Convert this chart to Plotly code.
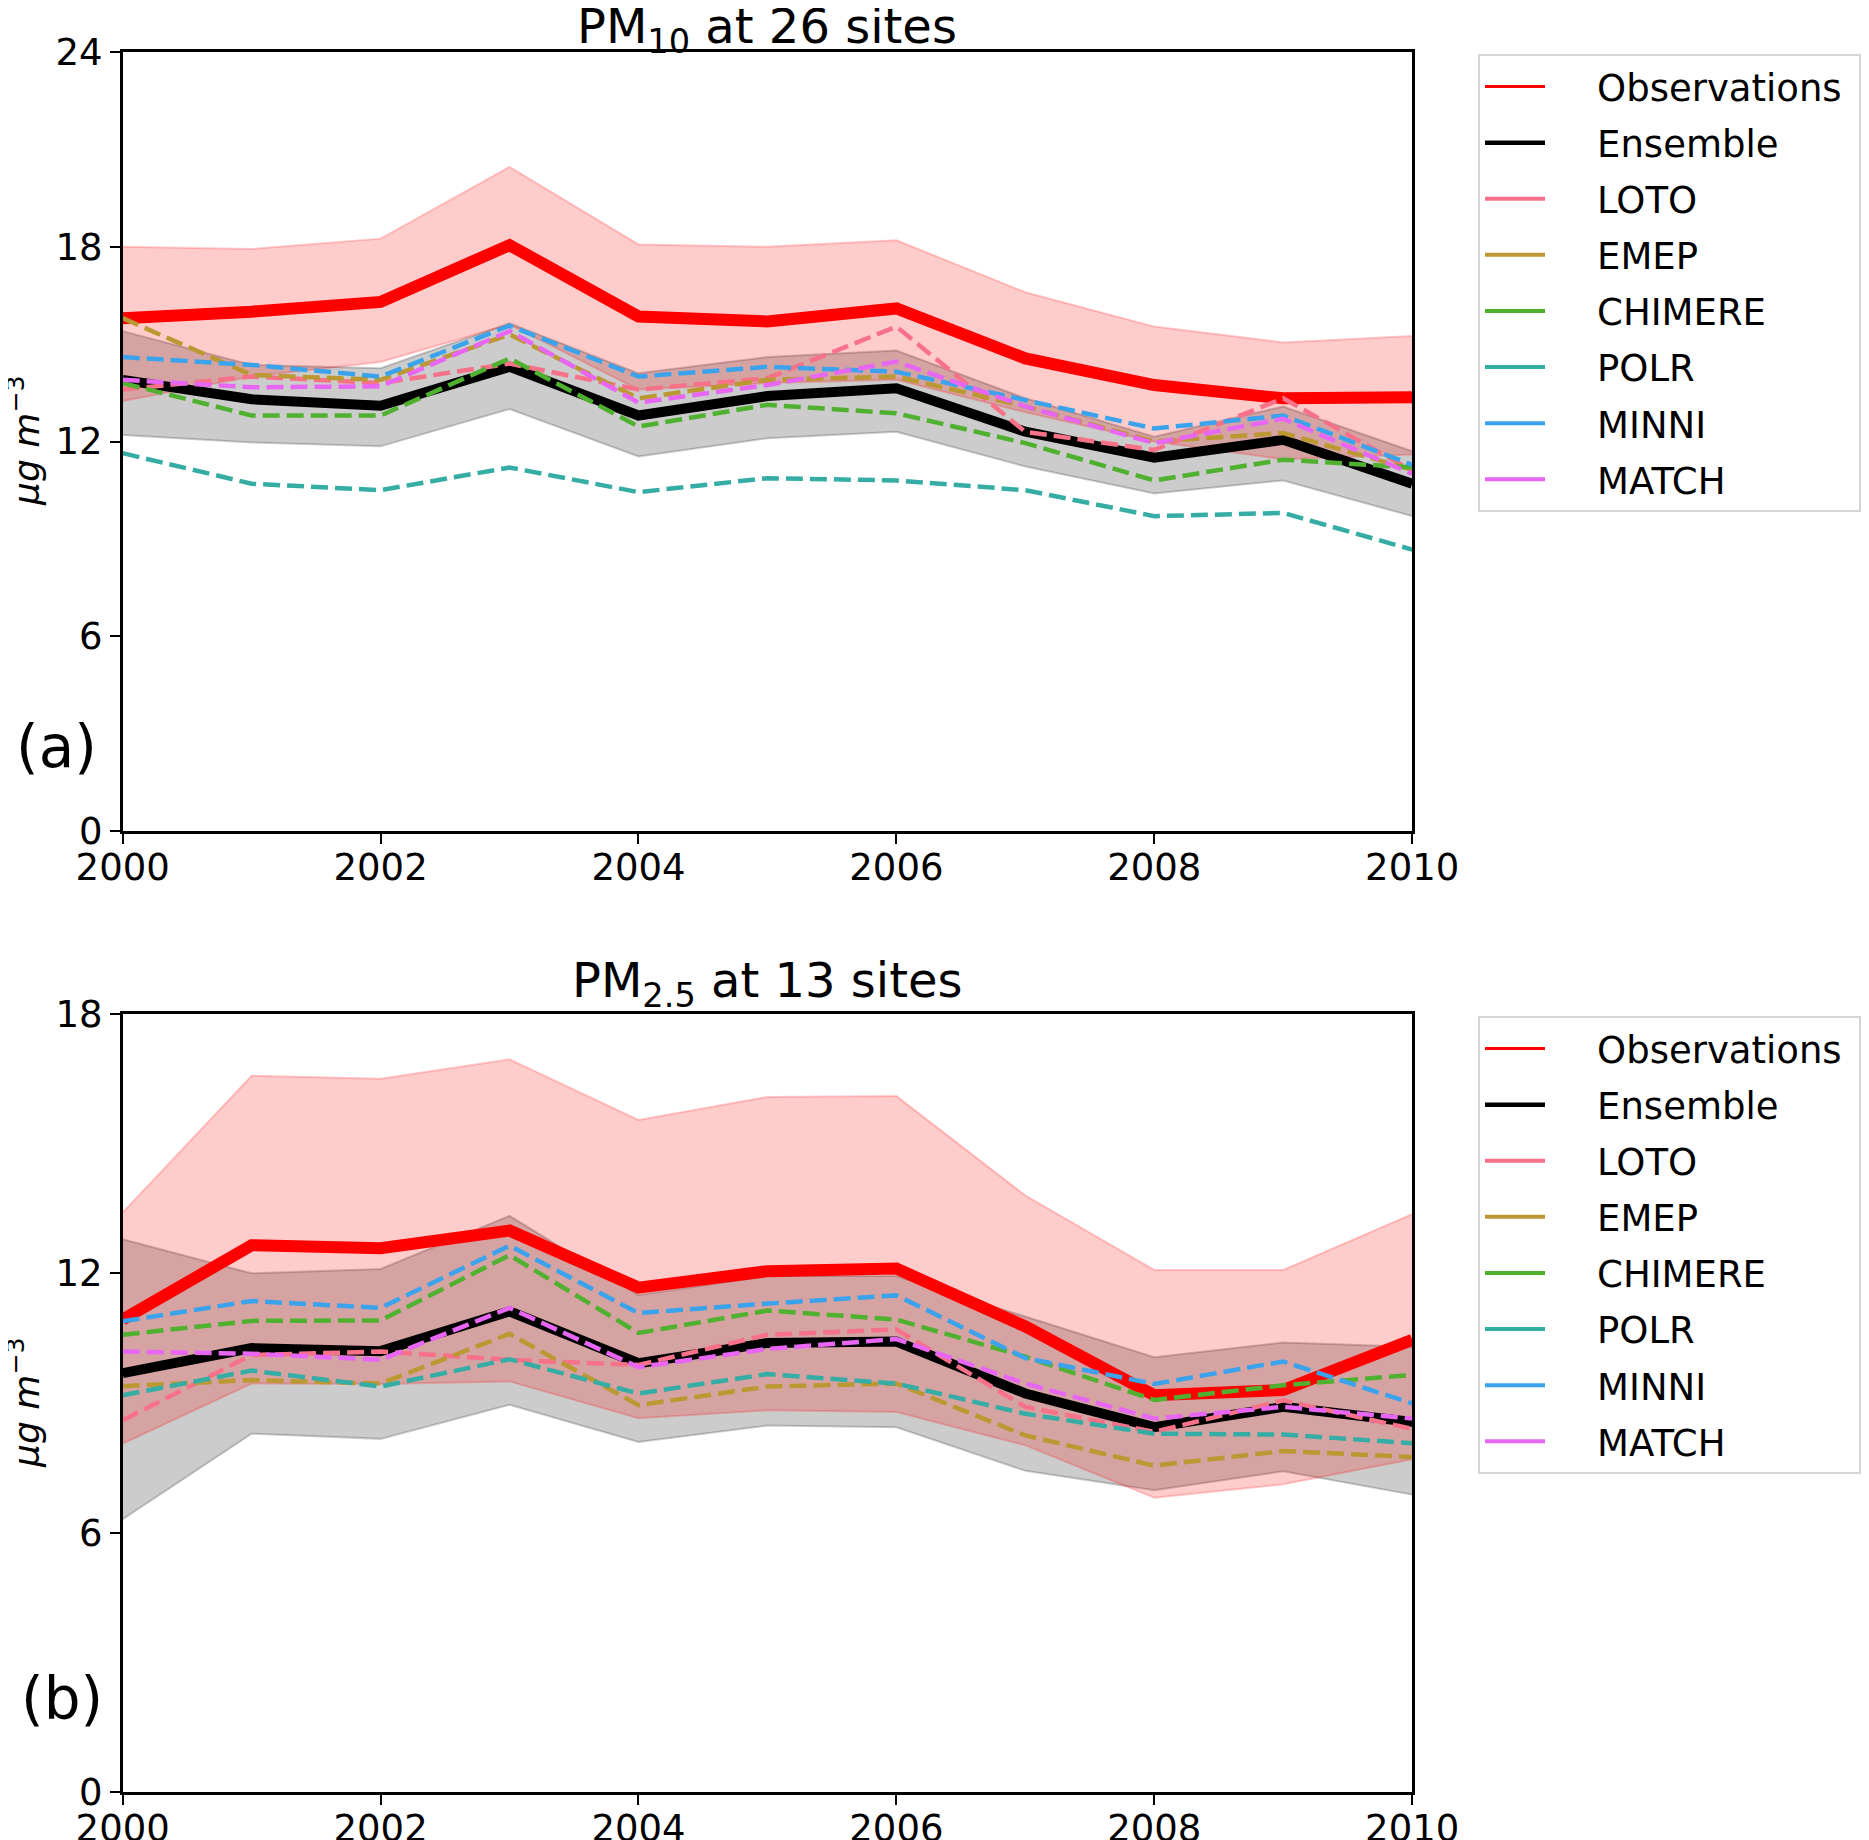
import plotly.graph_objects as go

years = list(range(2000, 2011))

# PM10 (panel a)
pm10_obs = [15.8, 16.0, 16.3, 18.05, 15.85, 15.7, 16.1, 14.56, 13.74, 13.33, 13.36]
pm10_obs_hi = [18.0, 17.93, 18.25, 20.46, 18.07, 18.0, 18.2, 16.6, 15.54, 15.05, 15.25]
pm10_obs_lo = [13.25, 14.0, 14.45, 15.6, 13.6, 13.8, 13.9, 12.9, 12.0, 11.45, 11.6]
pm10_ens = [13.9, 13.3, 13.1, 14.3, 12.8, 13.4, 13.64, 12.3, 11.5, 12.05, 10.7]
pm10_ens_hi = [15.4, 14.36, 14.26, 15.64, 14.1, 14.6, 14.8, 13.33, 12.15, 13.08, 11.7]
pm10_ens_lo = [12.2, 11.97, 11.85, 13.0, 11.54, 12.1, 12.3, 11.23, 10.4, 10.8, 9.7]
pm10_loto = [13.6, 14.0, 13.8, 14.4, 13.6, 13.95, 15.54, 12.3, 11.74, 13.33, 11.1]
pm10_emep = [15.8, 14.05, 13.9, 15.3, 13.33, 13.9, 14.0, 13.08, 12.0, 12.26, 11.13]
pm10_chimere = [13.8, 12.8, 12.8, 14.56, 12.46, 13.13, 12.87, 11.95, 10.8, 11.44, 11.2]
pm10_polr = [11.64, 10.7, 10.5, 11.2, 10.44, 10.87, 10.8, 10.5, 9.7, 9.8, 8.67]
pm10_minni = [14.6, 14.36, 14.0, 15.57, 14.0, 14.3, 14.15, 13.28, 12.4, 12.8, 11.28]
pm10_match = [13.9, 13.67, 13.7, 15.4, 13.2, 13.74, 14.46, 13.08, 11.95, 12.7, 11.0]

# PM2.5 (panel b)
pm25_obs = [10.93, 12.65, 12.58, 12.99, 11.67, 12.05, 12.11, 10.77, 9.18, 9.3, 10.46]
pm25_obs_hi = [13.41, 16.57, 16.5, 16.95, 15.55, 16.08, 16.1, 13.8, 12.08, 12.08, 13.37]
pm25_obs_lo = [8.06, 9.45, 9.44, 9.5, 8.65, 8.83, 8.79, 8.02, 6.81, 7.12, 7.7]
pm25_ens = [9.69, 10.27, 10.2, 11.12, 9.92, 10.39, 10.42, 9.22, 8.44, 8.91, 8.56]
pm25_ens_hi = [12.79, 12.0, 12.1, 13.33, 11.5, 11.94, 11.94, 11.0, 10.06, 10.4, 10.3]
pm25_ens_lo = [6.31, 8.29, 8.17, 8.96, 8.1, 8.48, 8.44, 7.43, 6.98, 7.42, 6.88]
pm25_loto = [8.6, 10.11, 10.19, 10.0, 9.88, 10.58, 10.7, 8.91, 8.33, 9.06, 8.4]
pm25_emep = [9.39, 9.53, 9.45, 10.6, 8.95, 9.38, 9.45, 8.25, 7.55, 7.89, 7.75]
pm25_chimere = [10.58, 10.9, 10.91, 12.42, 10.62, 11.14, 10.93, 10.07, 9.07, 9.41, 9.65]
pm25_polr = [9.18, 9.75, 9.38, 10.01, 9.22, 9.67, 9.45, 8.75, 8.29, 8.27, 8.07]
pm25_minni = [10.89, 11.36, 11.2, 12.64, 11.08, 11.3, 11.49, 10.04, 9.44, 9.96, 8.99]
pm25_match = [10.19, 10.14, 10.0, 11.2, 9.83, 10.25, 10.48, 9.45, 8.64, 8.91, 8.64]

model_names = ["LOTO", "EMEP", "CHIMERE", "POLR", "MINNI", "MATCH"]
model_colors = ["#f77189", "#bb9832", "#50b131", "#36ada4", "#3ba3ec", "#e866f4"]

# the page body adds an 8px margin, so the figure starts at (8, 8) in the window
PAD = 8
W, H = 1869 - 2 * PAD, 1840 - PAD
FONT = "DejaVu Sans"


def px(x):
    return (x - PAD) / W


def py(y):
    return 1 - (y - PAD) / H


panels = [
    dict(xa="x", ya="y", legend="legend", ymax=24, ticks=[0, 6, 12, 18, 24],
         obs=pm10_obs, obs_lo=pm10_obs_lo, obs_hi=pm10_obs_hi,
         ens=pm10_ens, ens_lo=pm10_ens_lo, ens_hi=pm10_ens_hi,
         models=[pm10_loto, pm10_emep, pm10_chimere, pm10_polr, pm10_minni, pm10_match]),
    dict(xa="x2", ya="y2", legend="legend2", ymax=18, ticks=[0, 6, 12, 18],
         obs=pm25_obs, obs_lo=pm25_obs_lo, obs_hi=pm25_obs_hi,
         ens=pm25_ens, ens_lo=pm25_ens_lo, ens_hi=pm25_ens_hi,
         models=[pm25_loto, pm25_emep, pm25_chimere, pm25_polr, pm25_minni, pm25_match]),
]

fig = go.Figure()

for k, p in enumerate(panels):
    ax = dict(xaxis=p["xa"], yaxis=p["ya"], showlegend=False, hoverinfo="skip")
    # ensemble spread
    fig.add_trace(go.Scatter(x=years, y=p["ens_lo"], mode="lines",
                             line=dict(color="rgba(0,0,0,0.2)", width=2), **ax))
    fig.add_trace(go.Scatter(x=years, y=p["ens_hi"], mode="lines", fill="tonexty",
                             fillcolor="rgba(0,0,0,0.2)",
                             line=dict(color="rgba(0,0,0,0.2)", width=2), **ax))
    # observation spread
    fig.add_trace(go.Scatter(x=years, y=p["obs_lo"], mode="lines",
                             line=dict(color="rgba(255,0,0,0.2)", width=2), **ax))
    fig.add_trace(go.Scatter(x=years, y=p["obs_hi"], mode="lines", fill="tonexty",
                             fillcolor="rgba(255,0,0,0.2)",
                             line=dict(color="rgba(255,0,0,0.2)", width=2), **ax))
    fig.add_trace(go.Scatter(x=years, y=p["obs"], mode="lines",
                             line=dict(color="red", width=12), **ax))
    fig.add_trace(go.Scatter(x=years, y=p["ens"], mode="lines",
                             line=dict(color="black", width=10), **ax))
    for vals, col in zip(p["models"], model_colors):
        fig.add_trace(go.Scatter(x=years, y=vals, mode="lines",
                                 line=dict(color=col, width=4.5, dash="17px,7px"), **ax))

    # legend entries (solid lines as in the original)
    entries = [("Observations", "red", 3), ("Ensemble", "black", 4.5)]
    entries += [(n, c, 4) for n, c in zip(model_names, model_colors)]
    for name, col, lw in entries:
        fig.add_trace(go.Scatter(x=[None], y=[None], mode="lines",
                                 name="\u00a0" * 4 + name + "\u00a0",
                                 line=dict(color=col, width=lw),
                                 legendgroup=f"{k}-{name}",
                                 xaxis=p["xa"], yaxis=p["ya"], legend=p["legend"]))

axis_common = dict(showline=True, linecolor="black", linewidth=2.5, mirror=True,
                   ticks="outside", ticklen=10, tickwidth=2, tickcolor="black",
                   showgrid=False, zeroline=False, automargin=False,
                   tickfont=dict(family=FONT, size=37, color="black"))
xaxis_common = dict(range=[2000, 2010], dtick=2, ticklabelstandoff=-8, **axis_common)

x0, x1 = px(123), px(1416)
fig.update_layout(
    width=W, height=H,
    margin=dict(l=0, r=0, t=0, b=0),
    plot_bgcolor="white", paper_bgcolor="white",
    font=dict(family=FONT, color="black"),
    xaxis=dict(domain=[x0, x1], anchor="y", **xaxis_common),
    yaxis=dict(domain=[py(831), py(52)], range=[0, 24], tickvals=panels[0]["ticks"],
               anchor="x", **axis_common),
    xaxis2=dict(domain=[x0, x1], anchor="y2", **xaxis_common),
    yaxis2=dict(domain=[py(1792), py(1014)], range=[0, 18],
                tickvals=panels[1]["ticks"], anchor="x2", **axis_common),
)

legend_style = dict(xanchor="left", yanchor="top", bgcolor="white",
                    bordercolor="#d5d5d5", borderwidth=2,
                    font=dict(family=FONT, size=37, color="black"),
                    itemwidth=60, traceorder="grouped", tracegroupgap=5)
fig.update_layout(
    legend=dict(x=px(1482), y=py(54), **legend_style),
    legend2=dict(x=px(1482), y=py(1016), **legend_style),
)

# titles, axis labels, panel letters
xc = (x0 + x1) / 2
notes = [
    ("PM<sub>10</sub> at 26 sites", xc, py(30), 48, 0),
    ("PM<sub>2.5</sub> at 13 sites", xc, py(983), 48, 0),
    ("<i>μg m</i><sup>−3</sup>", px(24), py(441), 36, -90),
    ("<i>μg m</i><sup>−3</sup>", px(24), py(1403), 36, -90),
    ("(a)", px(57), py(747), 58, 0),
    ("(b)", px(62), py(1699), 58, 0),
]
for text, x, y, size, angle in notes:
    fig.add_annotation(text=text, x=x, y=y, xref="paper", yref="paper",
                       xanchor="center", yanchor="middle", showarrow=False,
                       textangle=angle, font=dict(family=FONT, size=size, color="black"))

fig.write_html("out.html")
